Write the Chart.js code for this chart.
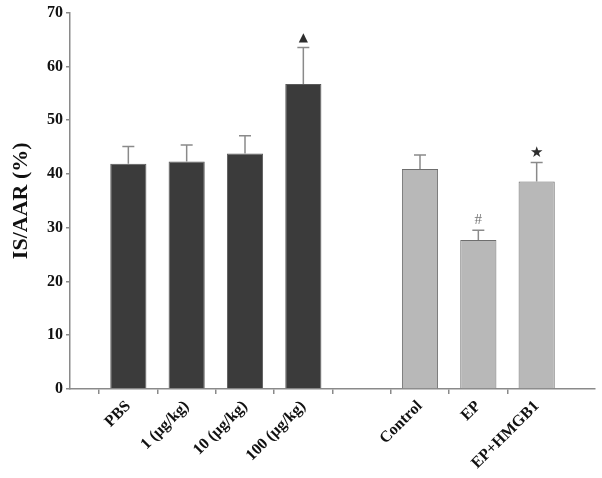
<!DOCTYPE html>
<html>
<head>
<meta charset="utf-8">
<script src="https://cdn.jsdelivr.net/npm/chart.js@4.4.1/dist/chart.umd.min.js"></script>
<style>
    html, body { margin: 0; padding: 0; background: #fff; }
    #wrap { width: 602px; height: 478px; }
</style>
</head>
<body>
<div id="wrap"><canvas id="isChart"></canvas></div>
<script>
// ===== IS/AAR bar chart =====

// empty slots keep the gap between the two groups and the space at both ends
const categories = ['', 'PBS', '1 (\u03bcg/kg)', '10 (\u03bcg/kg)', '100 (\u03bcg/kg)', '', 'Control', 'EP', 'EP+HMGB1', ''];
const means = [null, 41.9, 42.3, 43.8, 56.7, null, 40.9, 27.7, 38.6, null];
const errors = [null, 3.2, 3.1, 3.3, 6.8, null, 2.6, 1.8, 3.5, null];
const groups = ['', 'dose', 'dose', 'dose', 'dose', '', 'treat', 'treat', 'treat', ''];
const marks = ['', '', '', '', '\u25b2', '', '', '#', '\u2605', ''];
const yTicks = [0, 10, 20, 30, 40, 50, 60, 70];

const colors = { dose: '#3b3b3b', treat: '#b8b8b8' };
const borders = { dose: '#5a5a5a', treat: '#6e6e6e' };
const axisColor = '#8a8a8a';
const serif = "'Liberation Serif', 'Times New Roman', serif";

// error bars (upper only) and significance marks
const errorBars = {
    id: 'errorBars',
    afterDatasetsDraw(chart) {
        const { ctx, scales: { y } } = chart;
        const meta = chart.getDatasetMeta(0);
        ctx.save();
        meta.data.forEach((bar, i) => {
            if (means[i] == null) return;
            const top = y.getPixelForValue(means[i] + errors[i]);
            ctx.strokeStyle = '#8a8a8a';
            ctx.lineWidth = 1.5;
            ctx.beginPath();
            ctx.moveTo(bar.x, bar.y);
            ctx.lineTo(bar.x, top);
            ctx.moveTo(bar.x - 6, top);
            ctx.lineTo(bar.x + 6, top);
            ctx.stroke();

            if (marks[i]) {
                ctx.textAlign = 'center';
                ctx.textBaseline = 'middle';
                if (marks[i] === '#') {
                    ctx.fillStyle = '#777';
                    ctx.font = '15px ' + serif;
                } else {
                    ctx.fillStyle = '#2e2e2e';
                    ctx.font = (marks[i] === '\u2605' ? '15px' : '12px') + " 'DejaVu Sans', sans-serif";
                }
                ctx.fillText(marks[i], bar.x, top - 10);
            }
        });
        ctx.restore();
    }
};

new Chart(document.getElementById('isChart'), {
    type: 'bar',
    data: {
        labels: categories,
        datasets: [{
            data: means,
            backgroundColor: groups.map(g => colors[g] || 'transparent'),
            borderColor: groups.map(g => borders[g] || 'transparent'),
            borderWidth: 1,
            categoryPercentage: 1,
            barPercentage: 0.62
        }]
    },
    options: {
        responsive: true,
        maintainAspectRatio: false,
        animation: false,
        layout: { padding: { top: 12, right: 7, left: 4, bottom: 0 } },
        plugins: {
            legend: { display: false },
            tooltip: { enabled: false }
        },
        scales: {
            x: {
                offset: false,
                grid: {
                    drawOnChartArea: false,
                    tickLength: 5,
                    tickColor: c => (c.index === 0 || c.index === 9) ? 'transparent' : axisColor,
                    lineWidth: 1.5
                },
                border: { color: axisColor, width: 1.5 },
                ticks: {
                    autoSkip: false,
                    maxRotation: 45,
                    minRotation: 45,
                    padding: 3,
                    color: '#111',
                    font: { family: serif, size: 16, weight: 'bold' }
                },
                afterFit: s => {
                    s.height = 89;
                    s.paddingLeft = 0;
                    s.paddingRight = 0;
                }
            },
            y: {
                min: 0,
                max: 70,
                afterBuildTicks: s => { s.ticks = yTicks.map(v => ({ value: v })); },
                grid: {
                    drawOnChartArea: false,
                    tickLength: 4,
                    tickColor: axisColor,
                    lineWidth: 1.5
                },
                border: { color: axisColor, width: 1.5 },
                ticks: {
                    padding: 3,
                    color: '#111',
                    font: { family: serif, size: 16, weight: 'bold' }
                },
                title: {
                    display: true,
                    text: 'IS/AAR (%)',
                    color: '#111',
                    padding: { top: 4, bottom: 8 },
                    font: { family: serif, size: 22, weight: 'bold' }
                },
                afterFit: s => { s.width = 66; }
            }
        }
    },
    plugins: [errorBars]
});
</script>
</body>
</html>
